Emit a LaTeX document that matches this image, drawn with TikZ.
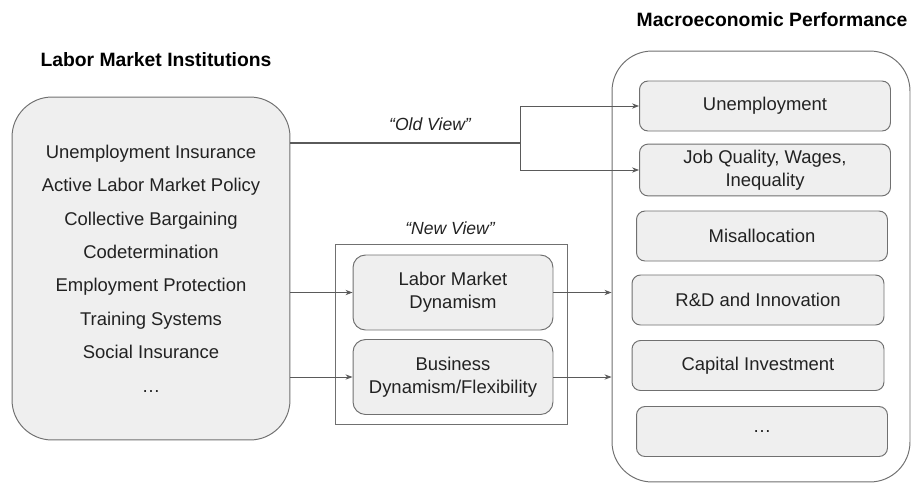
\documentclass[tikz,border=0pt]{standalone}
\usepackage{fontspec}
\setmainfont{Liberation Sans}
\usetikzlibrary{arrows.meta}
\usetikzlibrary{positioning}
\definecolor{boxfill}{HTML}{EFEFEF}
\definecolor{boxline}{HTML}{707070}
\definecolor{wire}{HTML}{5A5A5A}
\definecolor{ink}{HTML}{222222}
\tikzstyle{every picture}=[line width=0.55pt]
\tikzstyle{bigbox}=[draw=boxline, rounded corners=0.8cm, inner sep=0pt]
\tikzstyle{outcome}=[draw=boxline, fill=boxfill, rounded corners=0.17cm, minimum height=1cm, align=center, text=ink, font=\fontsize{10.5}{13}\selectfont]
\tikzstyle{channel}=[draw=boxline, fill=boxfill, rounded corners=0.25cm, minimum width=4cm, minimum height=1.5cm, align=center, text=ink, font=\fontsize{10.5}{13}\selectfont]
\tikzstyle{heading}=[text=black, font=\bfseries\fontsize{11}{13}\selectfont]
\tikzstyle{viewlabel}=[text=ink, font=\itshape\fontsize{10}{12}\selectfont]
\tikzstyle{wire}=[draw=wire, line width=0.5pt]
\tikzstyle{every scope}=[>={Stealth[length=4pt,width=3pt]}]

\begin{document}
\begin{tikzpicture}[x=0.02cm, y=-0.02cm]
  \useasboundingbox (0,0) rectangle (912,484);
  \begin{scope}

	\path (151,268.5) node [bigbox, fill=boxfill, minimum width=5.56cm, minimum height=6.86cm, align=center, text=ink, font=\fontsize{10.5}{19}\selectfont] (inst)
	        {Unemployment Insurance\\Active Labor Market Policy\\Collective Bargaining\\Codetermination\\Employment Protection\\Training Systems\\Social Insurance\\\dots}
	      (761,266.5) node [bigbox, fill=white, minimum width=5.96cm, minimum height=8.62cm] (perf) {}
	      (451,334) node [draw=boxline, minimum width=4.64cm, minimum height=3.6cm] (nv) {}
	      (453,292.5) node [channel] (lmd) {Labor Market\\Dynamism}
	      (453,377) node [channel] (bdf) {Business\\Dynamism/Flexibility}
	      (765,106) node [outcome, minimum width=5.02cm] (unemp) {Unemployment}
	      (765,170) node [outcome, minimum width=5.02cm] (jobq) {Job Quality, Wages,\\Inequality}
	      (762,236) node [outcome, minimum width=5.02cm] (misal) {Misallocation}
	      (758,300) node [outcome, minimum width=5.04cm] (rnd) {R\&D and Innovation}
	      (758,365.5) node [outcome, minimum width=5.04cm] (capinv) {Capital Investment}
	      (762,431.5) node [outcome, minimum width=5.02cm] (more) {\dots}
	      (156,60) node [heading] (insttitle) {Labor Market Institutions}
	      (772,20) node [heading] (perftitle) {Macroeconomic Performance}
	      (430,124) node [viewlabel] (oldlbl) {``Old View''}
	      (450,228) node [viewlabel] (newlbl) {``New View''};

	\coordinate (split) at (520,143);

	\draw[wire, line width=0.8pt] (inst.east |- split) -- (split);
	\draw[wire, ->] (split) |- (unemp.west);
	\draw[wire, ->] (split) |- (jobq.west);
	\draw[wire, ->] (inst.east |- lmd) -- (lmd.west);
	\draw[wire, ->] (inst.east |- bdf) -- (bdf.west);
	\draw[wire, ->] (lmd.east) -- (perf.west |- lmd);
	\draw[wire, ->] (bdf.east) -- (perf.west |- bdf);

  \end{scope}
\end{tikzpicture}
\end{document}
